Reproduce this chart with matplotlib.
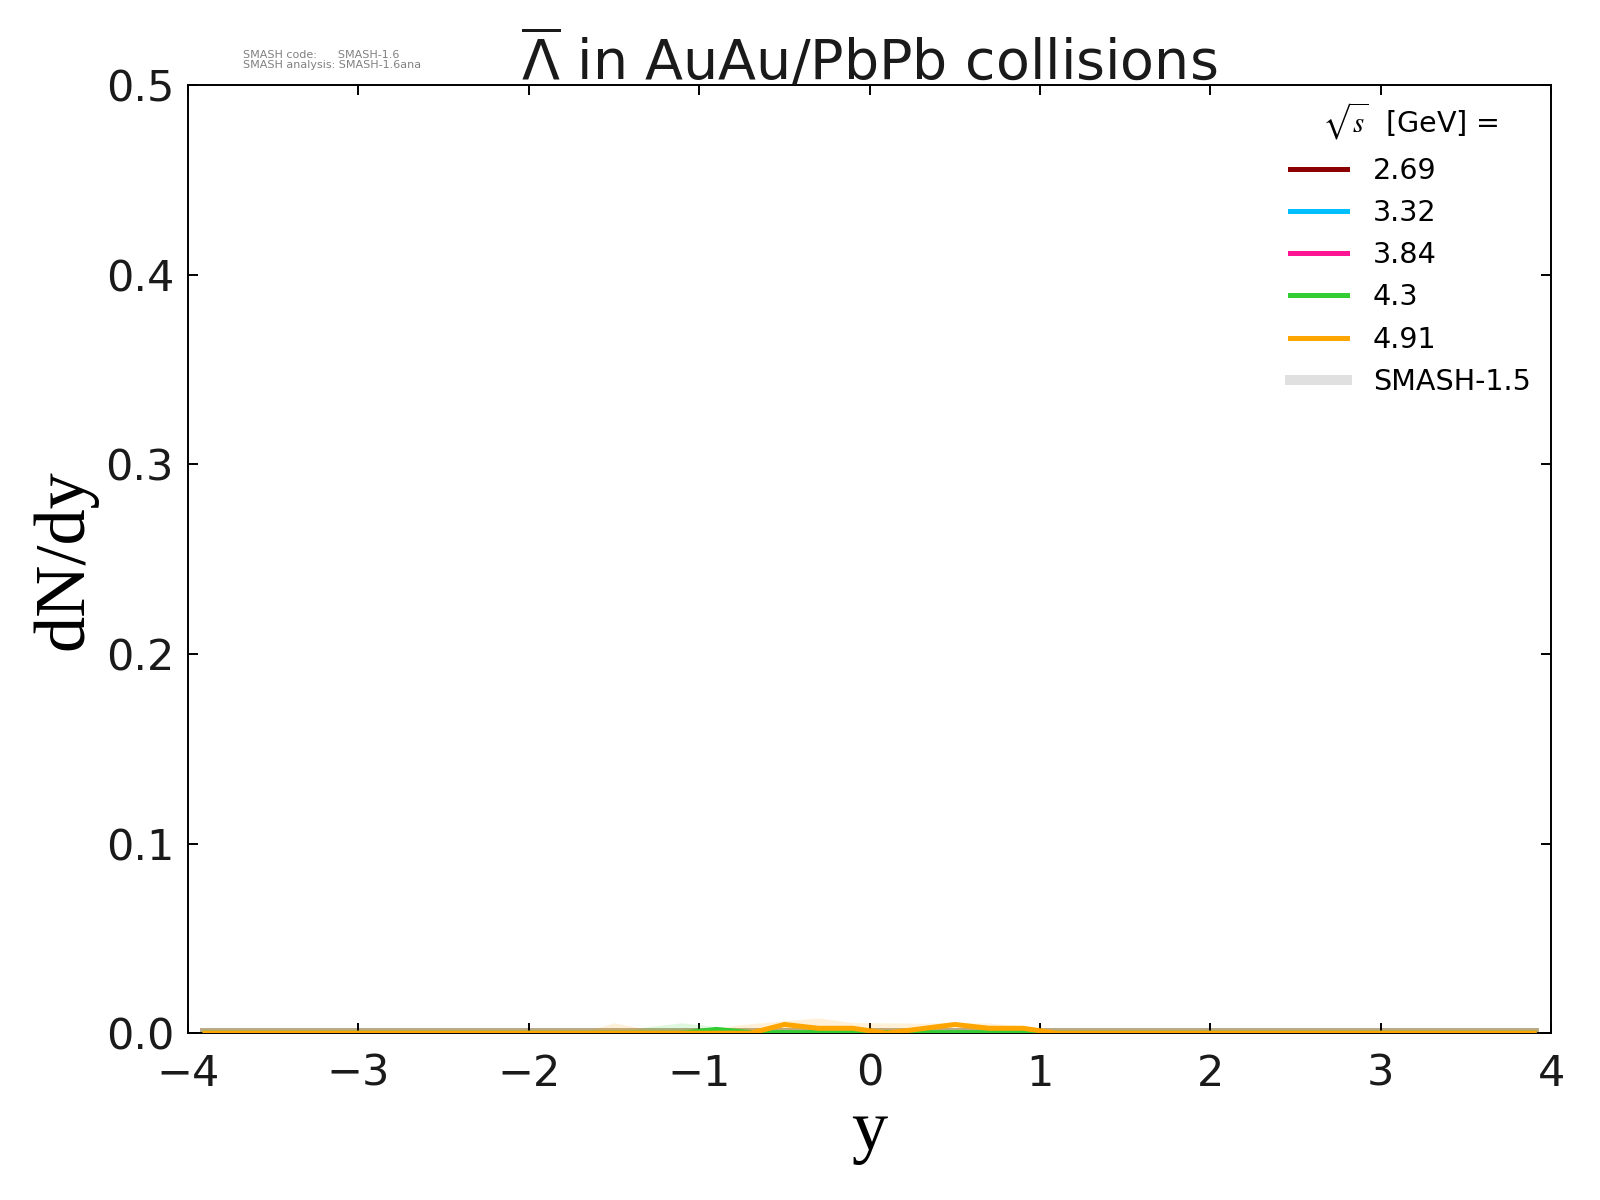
import matplotlib
matplotlib.use("Agg")
import matplotlib.pyplot as plt
from matplotlib.lines import Line2D
import numpy as np

# rapidity bin centres
ybins = [-3.9, -3.7, -3.5, -3.3, -3.1, -2.9, -2.7, -2.5, -2.3, -2.1,
         -1.9, -1.7, -1.5, -1.3, -1.1, -0.9, -0.7, -0.5, -0.3, -0.1,
         0.1, 0.3, 0.5, 0.7, 0.9, 1.1, 1.3, 1.5, 1.7, 1.9,
         2.1, 2.3, 2.5, 2.7, 2.9, 3.1, 3.3, 3.5, 3.7, 3.9]

energies = ["2.69", "3.32", "3.84", "4.3", "4.91"]
colors = ["darkred", "deepskyblue", "deeppink", "limegreen", "orange"]

zeros = [0.0] * 40

dndy_269 = list(zeros)
dndy_332 = list(zeros)
dndy_384 = list(zeros)
dndy_430 = [0, 0, 0, 0, 0, 0, 0, 0, 0, 0,
            0, 0, 0, 0, 0, 0.0020, 0.0003, 0.0003, 0.0003, 0.0003,
            0.0003, 0.0003, 0.0003, 0.0003, 0.0003, 0, 0, 0, 0, 0,
            0, 0, 0, 0, 0, 0, 0, 0, 0, 0]
dndy_491 = [0, 0, 0, 0, 0, 0, 0, 0, 0, 0,
            0, 0, 0, 0, 0, 0, 0, 0.0046, 0.0026, 0.0026,
            0, 0.0023, 0.0046, 0.0026, 0.0026, 0, 0, 0, 0, 0,
            0, 0, 0, 0, 0, 0, 0, 0, 0, 0]

err_269 = list(zeros)
err_332 = list(zeros)
err_384 = list(zeros)
err_430 = [0, 0, 0, 0, 0, 0, 0, 0, 0, 0,
           0, 0, 0, 0.0035, 0.0055, 0.0015, 0.001, 0, 0, 0,
           0, 0, 0, 0, 0, 0, 0, 0, 0, 0,
           0, 0, 0, 0, 0, 0, 0, 0, 0, 0]
err_491 = [0, 0, 0, 0, 0, 0, 0, 0, 0, 0,
           0, 0, 0.0055, 0.002, 0.002, 0.003, 0.005, 0.002, 0.0055, 0.003,
           0.0055, 0.003, 0.001, 0.0028, 0.001, 0, 0, 0, 0, 0,
           0, 0, 0, 0, 0, 0, 0, 0, 0, 0]

# previous version (SMASH-1.5)
old_269 = list(zeros)
old_332 = list(zeros)
old_384 = list(zeros)
old_430 = list(zeros)
old_491 = list(zeros)

new_vals = [dndy_269, dndy_332, dndy_384, dndy_430, dndy_491]
new_errs = [err_269, err_332, err_384, err_430, err_491]
old_vals = [old_269, old_332, old_384, old_430, old_491]

fig = plt.figure(figsize=(8, 6), dpi=200)
ax = fig.add_axes([0.1175, 0.139, 0.852, 0.79])

y = np.array(ybins)
for i in range(len(energies)):
    ax.plot(y, old_vals[i], color=colors[i], lw=3.6, alpha=0.2, zorder=1)

for i in range(len(energies)):
    v = np.array(new_vals[i])
    e = np.array(new_errs[i])
    ax.fill_between(y, v - e, v + e, color=colors[i], alpha=0.15, lw=0, zorder=2)
    ax.plot(y, v, color=colors[i], lw=1.8, zorder=3)

ax.set_xlim(-4, 4)
ax.set_ylim(0, 0.5)
ax.set_xticks([-4, -3, -2, -1, 0, 1, 2, 3, 4])
ax.set_yticks([0.0, 0.1, 0.2, 0.3, 0.4, 0.5])
ax.tick_params(direction="in", top=True, right=True, length=3.6, width=0.7,
               labelsize=15.5, labelcolor="#1a1a1a")
ax.tick_params(axis="x", pad=7)
ax.tick_params(axis="y", pad=5)
for s in ax.spines.values():
    s.set_linewidth(0.7)

ax.set_xlabel("y", family="Liberation Serif", fontsize=26, labelpad=2)
ax.set_ylabel("dN/dy", family="Liberation Serif", fontsize=26, labelpad=3)
ax.set_title(r"$\overline{\Lambda}$ in AuAu/PbPb collisions", fontsize=20,
             pad=2, color="#1a1a1a", math_fontfamily="dejavusans")

handles = [Line2D([], [], color=c, lw=1.8) for c in colors]
handles.append(Line2D([], [], color="#e0e0e0", lw=3.6))
labels = energies + ["SMASH-1.5"]
leg = ax.legend(handles, labels, loc="upper right", frameon=False, fontsize=10.3,
                handlelength=2.0, handletextpad=0.9, labelspacing=0.5,
                title=r"$\sqrt{s}$  [GeV] =", title_fontsize=10.3,
                bbox_to_anchor=(1.004, 1.011))
leg.get_title().set_math_fontfamily("stix")

fig.text(0.152, 0.950, "SMASH code:      SMASH-1.6\nSMASH analysis: SMASH-1.6ana",
         fontsize=4.0, color="gray", va="center", ha="left", linespacing=1.1)

fig.savefig("out.png", dpi=200)
